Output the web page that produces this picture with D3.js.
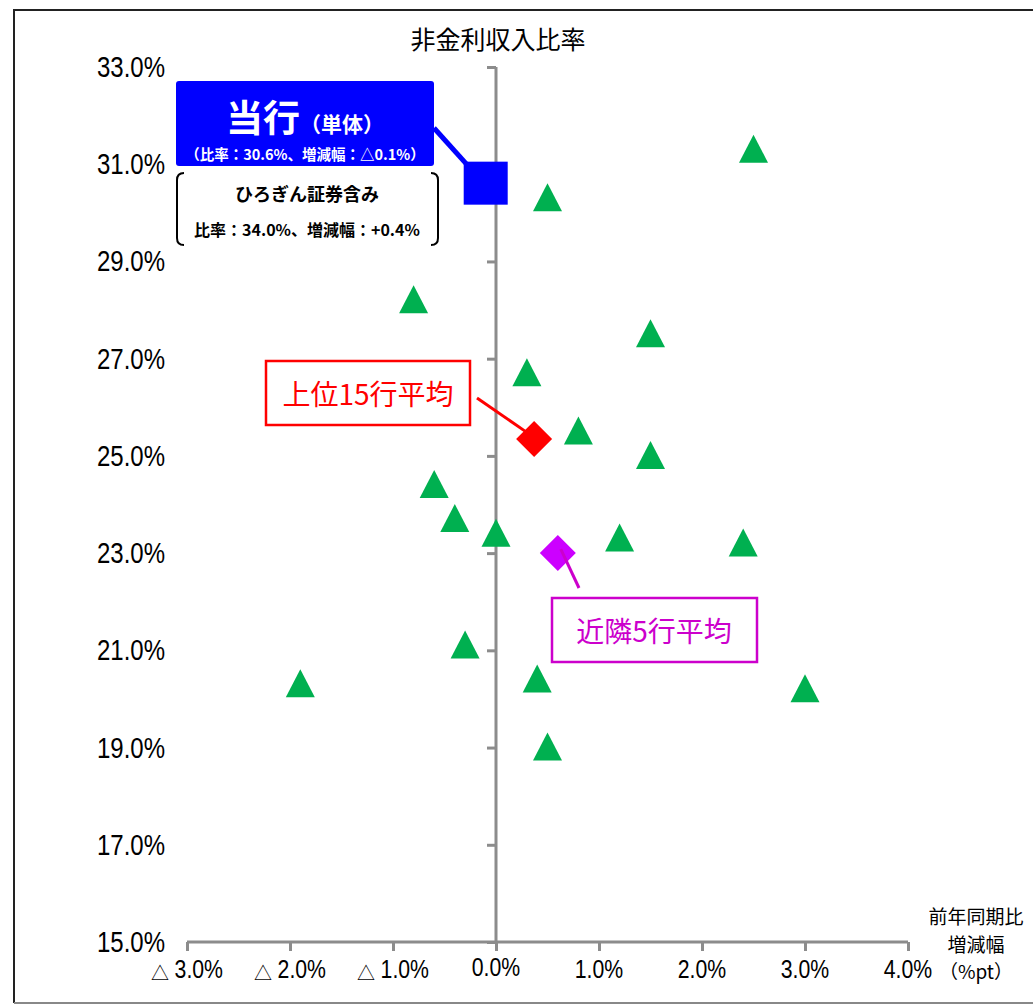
<!DOCTYPE html>
<html>
<head>
<meta charset="utf-8">
<script src="https://cdn.jsdelivr.net/npm/d3@7"></script>
<style>
  body { margin: 0; background: #fff; }
  svg { display: block; }
</style>
</head>
<body>
<script>
// Peer banks: year-on-year change (pt) and non-interest income ratio (%)
const peerChange = [2.5, 0.5, -0.8, 1.5, 0.3, 0.8, 1.5, -0.6, -0.4, 0.0, 1.2, 2.4, -0.3, -1.9, 0.4, 3.0, 0.5];
const peerRatio  = [31.3, 30.3, 28.2, 27.5, 26.7, 25.5, 25.0, 24.4, 23.7, 23.4, 23.3, 23.2, 21.1, 20.3, 20.4, 20.2, 19.0];

// Own bank (stand-alone), own group, and averages
const ownBank  = { change: -0.1, ratio: 30.6 };
const ownGroup = { change: 0.4, ratio: 34.0 };
const top15Avg = { change: 0.37, ratio: 25.35 };
const near5Avg = { change: 0.6, ratio: 23.0 };

// Axis ticks
const xTicks = [-3, -2, -1, 0, 1, 2, 3, 4];
const yTicks = [15, 17, 19, 21, 23, 25, 27, 29, 31, 33];

const W = 1033, H = 1005;
const JP = "'Noto Sans CJK JP', 'Noto Sans', sans-serif";
const NUM = "'Liberation Sans Narrow', 'Liberation Sans', Arial, sans-serif";

const svg = d3.select("body").append("svg").attr("width", W).attr("height", H);

const x = d3.scaleLinear().domain([-3, 4]).range([187, 908]);
const y = d3.scaleLinear().domain([15, 33]).range([942, 67]);

const fmtPct = v => (v < 0 ? "△" : "") + Math.abs(v).toFixed(1) + "%";
const fmtSigned = v => (v < 0 ? "△" : "+") + Math.abs(v).toFixed(1) + "%";

// Outer frame
svg.append("path")
  .attr("d", `M${W + 5},10 H14 V1003`)
  .attr("fill", "none").attr("stroke", "#222").attr("stroke-width", 2);
svg.append("line")
  .attr("x1", 14).attr("x2", W + 5).attr("y1", 1003).attr("y2", 1003)
  .attr("stroke", "#888").attr("stroke-width", 2);

// Narrow numeric label helper
function narrowText(g, tx, ty, str, size, sx, anchor) {
  g.append("g").attr("transform", `translate(${tx},${ty})`)
    .append("text")
    .attr("transform", `scale(${sx},1)`)
    .attr("text-anchor", anchor)
    .attr("font-family", NUM)
    .attr("font-size", size)
    .attr("fill", "#000")
    .text(str);
}

// Y axis at x = 0
const yAxis = d3.axisLeft(y).tickValues(yTicks).tickSize(9).tickFormat("");
const gy = svg.append("g").attr("transform", `translate(${x(0)},0)`).call(yAxis);
gy.select(".domain").remove();
gy.selectAll(".tick line").attr("stroke", "#8c8c8c").attr("stroke-width", 3);
svg.append("line")
  .attr("x1", x(0)).attr("x2", x(0)).attr("y1", y(33)).attr("y2", y(15))
  .attr("stroke", "#8c8c8c").attr("stroke-width", 3);

// Y tick labels on the far left
const gyl = svg.append("g");
yTicks.forEach(v => narrowText(gyl, 165, y(v) + 10, v.toFixed(1) + "%", 30, 0.8, "end"));

// X axis at bottom
const xAxis = d3.axisBottom(x).tickValues(xTicks).tickSize(9).tickFormat("");
const gx = svg.append("g").attr("transform", `translate(0,${y(15)})`).call(xAxis);
gx.select(".domain").remove();
gx.selectAll(".tick line").attr("stroke", "#8c8c8c").attr("stroke-width", 3);
svg.append("line")
  .attr("x1", x(-3)).attr("x2", x(4)).attr("y1", y(15)).attr("y2", y(15))
  .attr("stroke", "#8c8c8c").attr("stroke-width", 3);

// X tick labels
xTicks.forEach(v => {
  const g = svg.append("g").attr("transform", `translate(${x(v)},${y(15) + 36})`);
  if (v < 0) {
    g.append("text").attr("x", -36).attr("y", 2).attr("text-anchor", "start")
      .attr("font-family", JP).attr("font-size", 18).attr("fill", "#000").text("△");
    g.append("g").attr("transform", "translate(36,0)")
      .append("text").attr("transform", "scale(0.85,1)").attr("text-anchor", "end")
      .attr("font-family", NUM).attr("font-size", 25).attr("fill", "#000")
      .text(Math.abs(v).toFixed(1) + "%");
  } else {
    g.append("text").attr("transform", "scale(0.85,1)").attr("text-anchor", "middle")
      .attr("y", v === 0 ? -2 : 0)
      .attr("font-family", NUM).attr("font-size", 25).attr("fill", "#000")
      .text(v.toFixed(1) + "%");
  }
});

// Titles
svg.append("text").attr("x", 498).attr("y", 49).attr("text-anchor", "middle")
  .attr("font-family", JP).attr("font-size", 25).attr("fill", "#000").text("非金利収入比率");
[["前年同期比", 924], ["増減幅", 951.5], ["（%pt）", 979]].forEach(([s, yy]) =>
  svg.append("text").attr("x", 976).attr("y", yy).attr("text-anchor", "middle")
    .attr("font-family", JP).attr("font-size", 19).attr("fill", "#000").text(s));

// Peer markers (triangles)
const peers = peerChange.map((c, i) => ({ change: c, ratio: peerRatio[i] }));
svg.append("g").selectAll("path").data(peers).join("path")
  .attr("d", d => {
    const cx = x(d.change), cy = y(d.ratio);
    return `M${cx},${cy - 15} L${cx + 14.5},${cy + 13} L${cx - 14.5},${cy + 13} Z`;
  })
  .attr("fill", "#00B050");

// Leader lines
function leader(x1, y1, x2, y2, color, w) {
  svg.append("line").attr("x1", x1).attr("y1", y1).attr("x2", x2).attr("y2", y2)
    .attr("stroke", color).attr("stroke-width", w);
}

// Top-15 average (red diamond)
const rx = x(top15Avg.change), ry = y(top15Avg.ratio);
leader(477, 398, rx - 8, ry - 7, "#FF0000", 3);
svg.append("path").attr("d", `M${rx},${ry - 18} L${rx + 18},${ry} L${rx},${ry + 18} L${rx - 18},${ry} Z`)
  .attr("fill", "#FF0000");
svg.append("rect").attr("x", 266).attr("y", 361).attr("width", 204).attr("height", 64)
  .attr("fill", "#fff").attr("stroke", "#FF0000").attr("stroke-width", 2.5);
svg.append("text").attr("x", 368).attr("y", 405).attr("text-anchor", "middle")
  .attr("font-family", JP).attr("font-size", 28).attr("fill", "#FF0000").text("上位15行平均");

// Nearby-5 average (magenta diamond)
const mx = x(near5Avg.change), my = y(near5Avg.ratio);
svg.append("path").attr("d", `M${mx},${my - 18} L${mx + 18},${my} L${mx},${my + 18} L${mx - 18},${my} Z`)
  .attr("fill", "#CC00FF");
leader(mx + 3, my - 4, 579, 588, "#CC00CC", 3);
svg.append("rect").attr("x", 552).attr("y", 598).attr("width", 205).attr("height", 64)
  .attr("fill", "#fff").attr("stroke", "#CC00CC").attr("stroke-width", 2.5);
svg.append("text").attr("x", 654).attr("y", 642).attr("text-anchor", "middle")
  .attr("font-family", JP).attr("font-size", 28).attr("fill", "#CC00CC").text("近隣5行平均");

// Own bank (blue square) with callout
const bx = x(ownBank.change), by = y(ownBank.ratio);
leader(434, 128, bx - 16, by - 16, "#0000FF", 5);
svg.append("rect").attr("x", bx - 22).attr("y", by - 22).attr("width", 44).attr("height", 43)
  .attr("fill", "#0000FF");
svg.append("rect").attr("x", 176).attr("y", 81).attr("width", 258).attr("height", 85)
  .attr("rx", 3).attr("fill", "#0000FF");
const t1 = svg.append("text").attr("x", 305).attr("y", 131.5).attr("text-anchor", "middle")
  .attr("font-family", JP).attr("font-weight", "bold").attr("fill", "#fff");
t1.append("tspan").attr("font-size", 37).text("当行");
t1.append("tspan").attr("font-size", 21).text("（単体）");
svg.append("text").attr("x", 305).attr("y", 159.5).attr("text-anchor", "middle")
  .attr("font-family", JP).attr("font-weight", "bold").attr("font-size", 14.5).attr("fill", "#fff")
  .text(`（比率：${ownBank.ratio.toFixed(1)}%、増減幅：${fmtPct(ownBank.change)}）`);

// Group (incl. securities subsidiary) bracket note
const br = svg.append("g").attr("fill", "none").attr("stroke", "#000").attr("stroke-width", 2);
br.append("path").attr("d", "M184,173 Q177,173 177,180 V238 Q177,245 184,245");
br.append("path").attr("d", "M431,173 Q438,173 438,180 V238 Q438,245 431,245");
svg.append("text").attr("x", 307).attr("y", 201).attr("text-anchor", "middle")
  .attr("font-family", JP).attr("font-weight", "bold").attr("font-size", 18).attr("fill", "#000")
  .text("ひろぎん証券含み");
svg.append("text").attr("x", 307).attr("y", 236).attr("text-anchor", "middle")
  .attr("font-family", JP).attr("font-weight", "bold").attr("font-size", 16).attr("fill", "#000")
  .text(`比率：${ownGroup.ratio.toFixed(1)}%、増減幅：${fmtSigned(ownGroup.change)}`);
</script>
</body>
</html>
